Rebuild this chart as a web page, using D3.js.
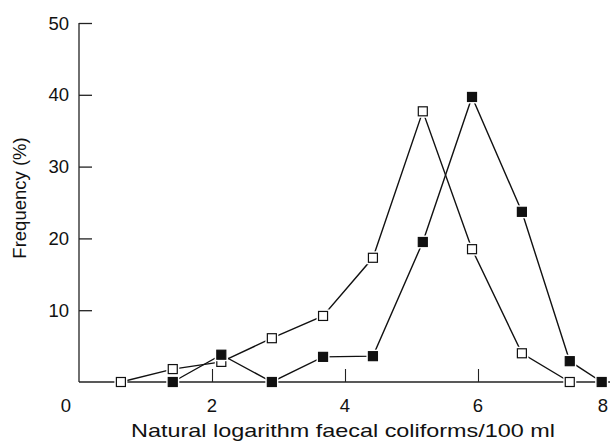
<!DOCTYPE html>
<html><head><meta charset="utf-8">
<script src="https://cdn.jsdelivr.net/npm/d3@7"></script>
<style>body{margin:0;background:#fff}svg text{font-family:"Liberation Sans",Arial,sans-serif;fill:#111}</style>
</head><body><svg id="c" width="610" height="446"></svg>
<script>
const openX = [0.63, 1.41, 2.14, 2.9, 3.67, 4.42, 5.17, 5.91, 6.66, 7.38];
const openY = [0, 1.8, 2.8, 6.1, 9.2, 17.3, 37.7, 18.5, 4.0, 0];
const filledX = [1.41, 2.14, 2.9, 3.67, 4.42, 5.17, 5.91, 6.66, 7.38, 7.86];
const filledY = [0, 3.8, 0, 3.5, 3.6, 19.5, 39.7, 23.7, 2.9, 0];
const xTicks = [2, 4, 6, 8];
const xLabels = [0, 2, 4, 6, 8];
const yTicks = [10, 20, 30, 40, 50];

const svg = d3.select("#c");
const x = d3.scaleLinear().domain([0, 8]).range([79, 611]);
const y = d3.scaleLinear().domain([0, 50]).range([382, 23]);

// axes lines
svg.append("line").attr("x1",79).attr("x2",79).attr("y1",y(50)).attr("y2",y(0)).attr("stroke","#222").attr("stroke-width",1.3);
svg.append("line").attr("x1",79).attr("x2",x(8)).attr("y1",y(0)).attr("y2",y(0)).attr("stroke","#222").attr("stroke-width",1.3);

// y ticks (inward)
const ya = d3.axisRight(y).tickValues(yTicks).tickSize(13).tickFormat("");
const yg = svg.append("g").attr("transform","translate(79,0)").call(ya);
yg.select(".domain").remove();
yg.selectAll("line").attr("stroke","#222").attr("stroke-width",1.3);
svg.selectAll(".ylab").data(yTicks).enter().append("text")
  .attr("x",69).attr("y",d=>y(d)).attr("dy","0.36em").attr("text-anchor","end")
  .attr("font-size",18.5).text(d=>d);

// x ticks (inward)
const xa = d3.axisTop(x).tickValues(xTicks).tickSize(13).tickFormat("");
const xg = svg.append("g").attr("transform",`translate(0,${y(0)})`).call(xa);
xg.select(".domain").remove();
xg.selectAll("line").attr("stroke","#222").attr("stroke-width",1.1);
svg.selectAll(".xlab").data(xLabels).enter().append("text")
  .attr("x",d=> d===0 ? x(d)-13 : d===8 ? x(d)-8 : x(d))
  .attr("y",412).attr("text-anchor","middle").attr("font-size",18.5).text(d=>d);

// titles
svg.append("text").attr("transform","translate(26,198) rotate(-90)").attr("text-anchor","middle")
  .attr("font-size",18.5).text("Frequency (%)");
svg.append("text").attr("x",343).attr("y",437).attr("text-anchor","middle")
  .attr("font-size",18.5).attr("textLength",424).attr("lengthAdjust","spacingAndGlyphs")
  .text("Natural logarithm faecal coliforms/100 ml");

const line = d3.line().x(d=>x(d[0])).y(d=>y(d[1]));
const openData = openX.map((v,i)=>[v, openY[i]]);
const filledData = filledX.map((v,i)=>[v, filledY[i]]);
[openData, filledData].forEach(data=>{
  svg.append("path").datum(data).attr("d",line).attr("fill","none").attr("stroke","#111").attr("stroke-width",1.4);
});
const s = 9;
function markers(data, fill){
  svg.append("g").selectAll("rect.h").data(data).enter().append("rect")
    .attr("x",d=>x(d[0])-s/2-2).attr("y",d=>y(d[1])-s/2-2).attr("width",s+4).attr("height",s+4)
    .attr("fill","#fff");
  svg.append("g").selectAll("rect.m").data(data).enter().append("rect")
    .attr("x",d=>x(d[0])-s/2).attr("y",d=>y(d[1])-s/2).attr("width",s).attr("height",s)
    .attr("fill",fill).attr("stroke","#111").attr("stroke-width",1.2);
}
markers(openData, "#fff");
markers(filledData, "#111");
</script></body></html>
